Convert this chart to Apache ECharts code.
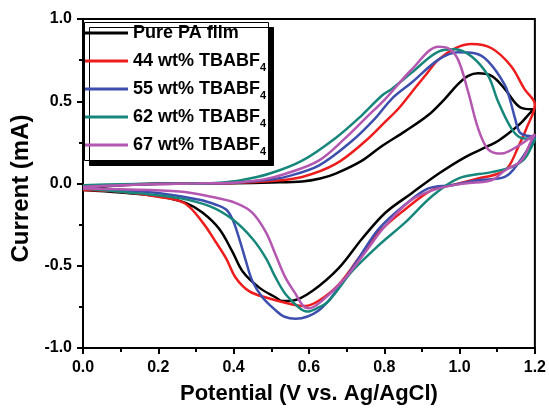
<!DOCTYPE html>
<html>
<head>
<meta charset="utf-8">
<script src="https://cdn.jsdelivr.net/npm/echarts@6/dist/echarts.min.js"></script>
<style>
html,body{margin:0;padding:0;background:#fff;}
#chart{width:549px;height:410px;}
</style>
</head>
<body>
<div id="chart"></div>
<script>
// Series names
const seriesNames = ['Pure PA film', '44 wt% TBABF4', '55 wt% TBABF4', '62 wt% TBABF4', '67 wt% TBABF4'];
const seriesColors = ['#000000', '#ee1d1d', '#3d4fae', '#17877b', '#b457b0'];

// Axis ticks
const xTicks = [0.0, 0.2, 0.4, 0.6, 0.8, 1.0, 1.2];
const yTicks = [-1.0, -0.5, 0.0, 0.5, 1.0];

// Cyclic voltammograms: [potential (V), current (mA)], forward scan then reverse scan
const purePA = [
  [0,-0.03],[0.1,-0.01],[0.2,0],[0.3,0],[0.4,0.002],[0.5,0.006],[0.582,0.012],[0.63,0.03],[0.671,0.06],
  [0.741,0.139],[0.794,0.228],[0.855,0.317],[0.917,0.416],[0.961,0.515],[0.996,0.604],[1.023,0.654],
  [1.049,0.670],[1.085,0.654],[1.12,0.575],[1.146,0.495],[1.164,0.46],[1.19,0.452],[1.2,0.452],
  [1.19,0.436],[1.164,0.37],[1.137,0.317],[1.102,0.258],[1.076,0.228],[1.014,0.159],[0.944,0.059],
  [0.873,-0.059],[0.803,-0.178],[0.741,-0.336],[0.679,-0.515],[0.609,-0.654],[0.556,-0.713],
  [0.53,-0.715],[0.512,-0.693],[0.468,-0.633],[0.424,-0.535],[0.397,-0.416],[0.362,-0.277],
  [0.318,-0.178],[0.274,-0.119],[0.204,-0.079],[0.1,-0.055],[0,-0.04]
];
const tbabf44 = [
  [0,-0.02],[0.1,-0.01],[0.2,-0.003],[0.3,0],[0.4,0.003],[0.5,0.015],[0.582,0.04],[0.671,0.119],
  [0.75,0.258],[0.803,0.376],[0.838,0.456],[0.873,0.555],[0.91,0.66],[0.944,0.753],[0.988,0.822],
  [1.032,0.848],[1.085,0.822],[1.137,0.713],[1.172,0.575],[1.2,0.48],
  [1.178,0.337],[1.155,0.218],[1.129,0.099],[1.102,0.059],[1.049,0.03],[0.979,-0.01],[0.926,-0.04],
  [0.855,-0.158],[0.785,-0.297],[0.732,-0.455],[0.679,-0.614],[0.626,-0.713],[0.59,-0.745],
  [0.556,-0.735],[0.486,-0.693],[0.441,-0.654],[0.406,-0.574],[0.38,-0.455],[0.353,-0.357],
  [0.318,-0.238],[0.27,-0.12],[0.2,-0.08],[0.1,-0.05],[0,-0.04]
];
const tbabf55 = [
  [0,-0.02],[0.1,-0.01],[0.2,-0.003],[0.3,0],[0.4,0.005],[0.5,0.025],[0.538,0.04],[0.626,0.109],
  [0.714,0.258],[0.776,0.396],[0.82,0.515],[0.873,0.614],[0.944,0.753],[0.996,0.798],[1.04,0.792],
  [1.076,0.743],[1.12,0.6],[1.135,0.5],[1.148,0.39],[1.16,0.31],[1.18,0.29],[1.2,0.285],
  [1.186,0.228],[1.164,0.149],[1.12,0.04],[1.049,0.02],[0.979,-0.01],[0.917,-0.03],[0.855,-0.129],
  [0.785,-0.277],[0.732,-0.455],[0.679,-0.634],[0.626,-0.772],[0.565,-0.822],[0.535,-0.81],
  [0.512,-0.772],[0.477,-0.693],[0.45,-0.594],[0.433,-0.475],[0.415,-0.336],[0.397,-0.218],
  [0.38,-0.158],[0.353,-0.129],[0.309,-0.099],[0.204,-0.059],[0.1,-0.04],[0,-0.03]
];
const tbabf62 = [
  [0,-0.01],[0.1,-0.005],[0.2,-0.002],[0.3,0],[0.362,0.005],[0.42,0.02],[0.494,0.059],[0.582,0.139],
  [0.671,0.277],[0.741,0.416],[0.794,0.535],[0.82,0.575],[0.873,0.674],[0.944,0.802],[0.988,0.816],
  [1.032,0.772],[1.076,0.654],[1.102,0.5],[1.137,0.337],[1.164,0.277],[1.2,0.27],
  [1.19,0.218],[1.172,0.149],[1.137,0.099],[1.085,0.069],[0.996,0.03],[0.926,-0.079],[0.855,-0.238],
  [0.785,-0.376],[0.714,-0.535],[0.653,-0.713],[0.62,-0.76],[0.595,-0.778],[0.574,-0.755],
  [0.538,-0.673],[0.512,-0.574],[0.486,-0.455],[0.45,-0.336],[0.397,-0.218],[0.336,-0.138],
  [0.256,-0.089],[0.15,-0.06],[0,-0.03]
];
const tbabf67 = [
  [0,-0.02],[0.1,-0.01],[0.2,-0.003],[0.3,0],[0.4,0.005],[0.48,0.025],[0.538,0.059],[0.626,0.139],
  [0.697,0.277],[0.75,0.396],[0.803,0.515],[0.873,0.693],[0.944,0.832],[0.97,0.822],[0.996,0.753],
  [1.023,0.555],[1.049,0.337],[1.076,0.208],[1.111,0.182],[1.155,0.228],[1.2,0.3],
  [1.19,0.258],[1.164,0.139],[1.12,0.079],[1.085,0.02],[1.014,0.0],[0.944,-0.03],[0.873,-0.099],
  [0.803,-0.257],[0.75,-0.416],[0.697,-0.574],[0.635,-0.713],[0.6,-0.758],[0.585,-0.745],
  [0.565,-0.673],[0.538,-0.574],[0.512,-0.436],[0.486,-0.297],[0.45,-0.178],[0.406,-0.119],
  [0.336,-0.079],[0.256,-0.049],[0.1,-0.035],[0,-0.03]
];
const seriesData = [purePA, tbabf44, tbabf55, tbabf62, tbabf67];

const FONT = '"Liberation Sans", Arial, sans-serif';
const chart = echarts.init(document.getElementById('chart'), null, {renderer: 'canvas'});

const option = {
  animation: false,
  backgroundColor: '#ffffff',
  grid: {left: 83, right: 12, top: 19, bottom: 55, show: true, borderColor: '#000', borderWidth: 2, backgroundColor: 'transparent'},
  graphic: [{
    type: 'rect', z: 3, silent: true,
    shape: {x: 84.5, y: 22.5, width: 184, height: 138},
    style: {fill: '#fff', stroke: '#000', lineWidth: 1, shadowColor: '#000', shadowBlur: 0, shadowOffsetX: 5, shadowOffsetY: 5}
  }],
  legend: {
    show: true, z: 10,
    left: 85, top: 20.5, orient: 'vertical',
    data: seriesNames,
    icon: 'rect',
    itemWidth: 43, itemHeight: 3, itemGap: 3,
    padding: 0,
    backgroundColor: 'transparent',
    textStyle: {
      fontFamily: FONT, fontWeight: 'bold', fontSize: 18, color: '#000', lineHeight: 25,
      rich: {sub: {fontFamily: FONT, fontWeight: 'bold', fontSize: 11, lineHeight: 11, color: '#000', verticalAlign: 'bottom'}}
    },
    formatter: function (name) { return name.replace(/TBABF4$/, 'TBABF{sub|4}'); }
  },
  xAxis: {
    type: 'value', min: xTicks[0], max: xTicks[xTicks.length - 1], interval: 0.2,
    name: 'Potential (V vs. Ag/AgCl)', nameLocation: 'middle', nameGap: 35,
    nameTextStyle: {fontFamily: FONT, fontWeight: 'bold', fontSize: 22, color: '#000'},
    axisLine: {show: true, onZero: false, lineStyle: {color: '#000', width: 2}},
    axisTick: {show: true, inside: false, length: 6, lineStyle: {color: '#000', width: 2}},
    minorTick: {show: true, splitNumber: 2, length: 4, lineStyle: {color: '#000', width: 2}},
    splitLine: {show: false},
    axisLabel: {fontFamily: FONT, fontWeight: 'bold', fontSize: 16, color: '#000', margin: 12,
      formatter: function (v) { return v.toFixed(1); }}
  },
  yAxis: {
    type: 'value', min: yTicks[0], max: yTicks[yTicks.length - 1], interval: 0.5,
    name: 'Current (mA)', nameLocation: 'middle', nameGap: 46,
    nameTextStyle: {fontFamily: FONT, fontWeight: 'bold', fontSize: 24, color: '#000', padding: [0, 10, 0, 0]},
    axisLine: {show: true, onZero: false, lineStyle: {color: '#000', width: 2}},
    axisTick: {show: true, inside: false, length: 6, lineStyle: {color: '#000', width: 2}},
    minorTick: {show: true, splitNumber: 2, length: 4, lineStyle: {color: '#000', width: 2}},
    splitLine: {show: false},
    axisLabel: {fontFamily: FONT, fontWeight: 'bold', fontSize: 16, color: '#000', margin: 11,
      formatter: function (v) { return v.toFixed(1); }}
  },
  series: seriesNames.map(function (n, i) {
    return {
      name: n, type: 'line', data: seriesData[i], smooth: 0.35,
      symbol: 'none', showSymbol: false, clip: true,
      lineStyle: {color: seriesColors[i], width: 2.5},
      itemStyle: {color: seriesColors[i]}
    };
  })
};
chart.setOption(option);
</script>
</body>
</html>
